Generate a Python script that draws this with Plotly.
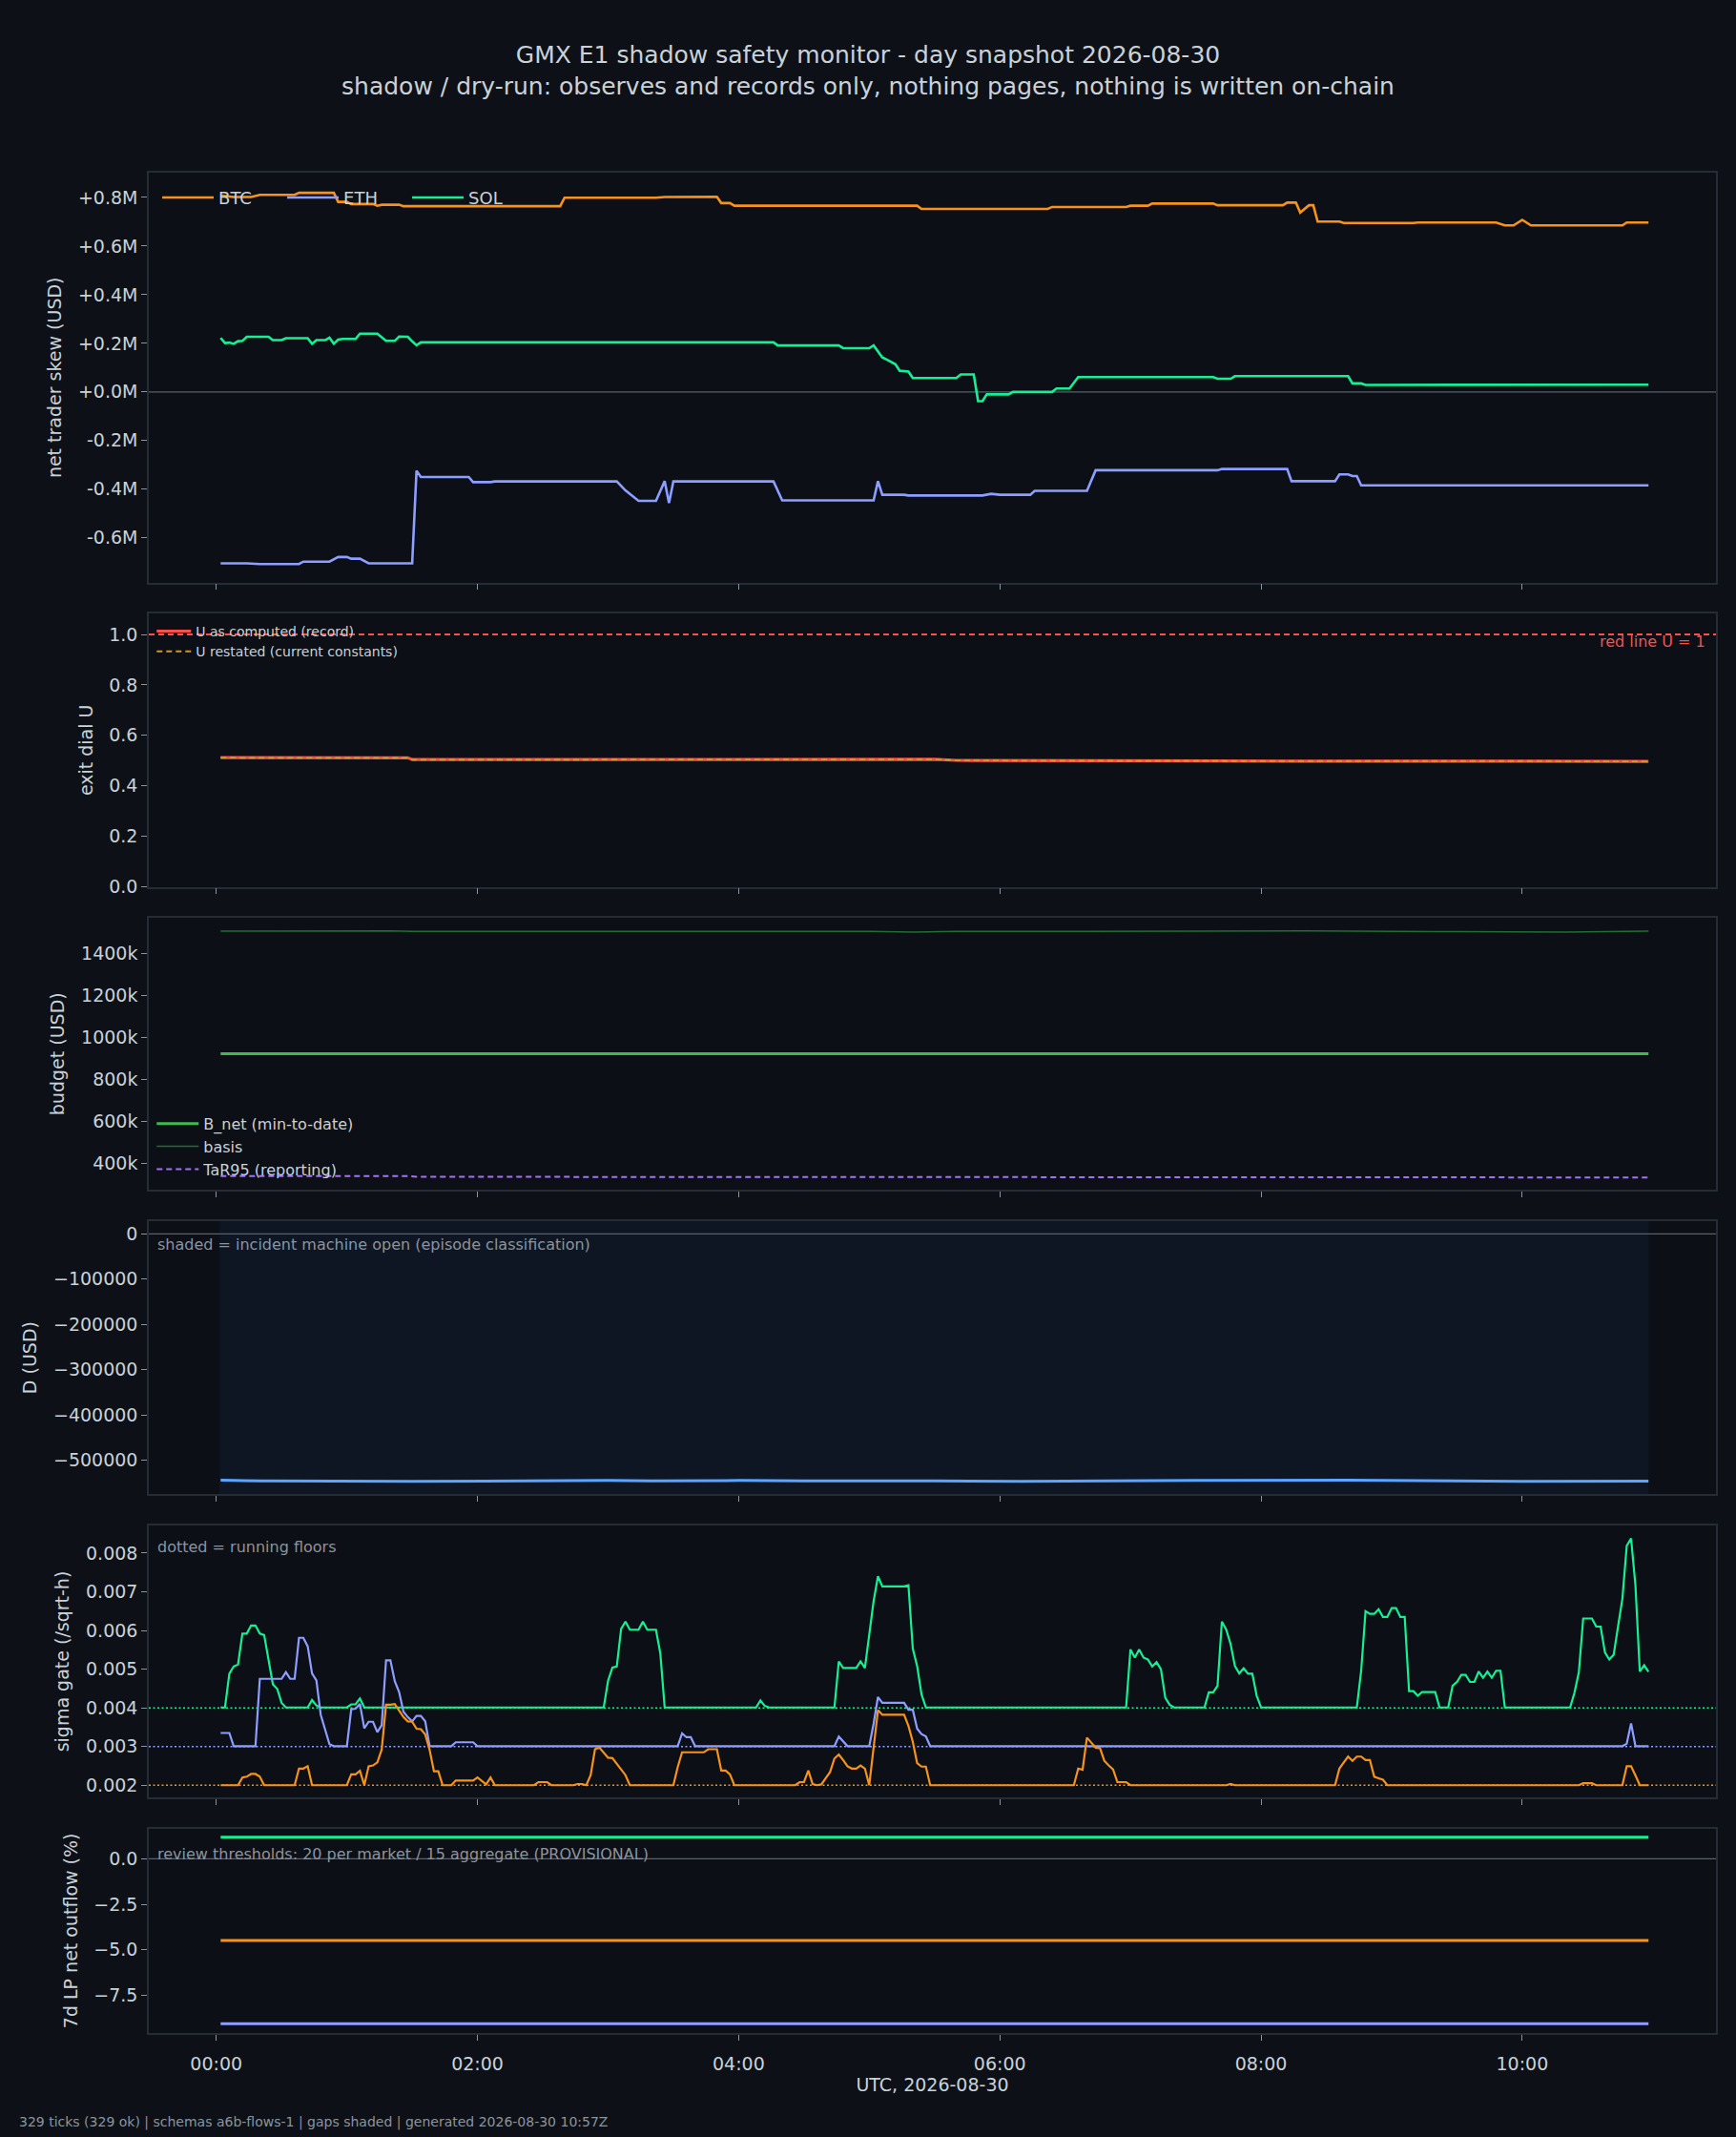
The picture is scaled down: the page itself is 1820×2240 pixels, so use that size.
import pandas as pd
import plotly.graph_objects as go
from plotly.subplots import make_subplots

DAY = "2026-08-30"

# --- colours ---
BG = "#0d1117"
PLOT_BG = "#0c0f16"
FG = "#c9d1d9"
MUTED = "#8b949e"
EDGE = "#262c36"
ZERO = "#5a6069"
C_BTC = "#f7931a"
C_ETH = "#8c9eff"
C_SOL = "#14f195"

# --- net trader skew, USD millions (minutes after 00:00, value) ---
BTC_SKEW_T = [2, 8, 16, 20, 36, 38, 54, 56, 60, 62, 72, 74, 76, 84, 86, 158, 160, 202, 206, 218,
              230, 232, 236, 238, 322, 324, 382, 384, 418, 420, 428, 430, 458, 460, 490, 492, 496,
              498, 502, 504, 506, 516, 518, 550, 552, 588, 592, 596, 600, 604, 646, 648, 658]
BTC_SKEW_M = [0.808, 0.802, 0.802, 0.811, 0.811, 0.819, 0.819, 0.782, 0.782, 0.773, 0.773, 0.766,
              0.770, 0.770, 0.764, 0.764, 0.799, 0.799, 0.802, 0.802, 0.803, 0.777, 0.777, 0.766,
              0.766, 0.753, 0.753, 0.761, 0.761, 0.766, 0.766, 0.775, 0.775, 0.768, 0.768, 0.779,
              0.779, 0.738, 0.768, 0.768, 0.701, 0.701, 0.695, 0.695, 0.697, 0.697, 0.685, 0.685,
              0.708, 0.685, 0.685, 0.697, 0.697]

ETH_SKEW_T = [2, 14, 20, 38, 40, 52, 56, 60, 62, 66, 70, 90, 92, 94, 116, 118, 126, 128, 184, 188,
              194, 202, 206, 208, 210, 256, 260, 302, 304, 306, 316, 318, 352, 356, 360, 374, 376,
              400, 404, 460, 462, 492, 494, 514, 516, 520, 522, 524, 526, 658]
ETH_SKEW_M = [-0.705, -0.705, -0.708, -0.708, -0.698, -0.698, -0.679, -0.679, -0.686, -0.686,
              -0.705, -0.705, -0.324, -0.350, -0.350, -0.371, -0.371, -0.368, -0.368, -0.405,
              -0.448, -0.448, -0.367, -0.457, -0.368, -0.368, -0.446, -0.446, -0.367, -0.423,
              -0.423, -0.426, -0.426, -0.419, -0.423, -0.423, -0.407, -0.407, -0.322, -0.322,
              -0.317, -0.317, -0.367, -0.367, -0.339, -0.339, -0.346, -0.346, -0.384, -0.384]

SOL_SKEW_T = [2, 4, 6, 8, 10, 12, 14, 24, 26, 30, 32, 42, 44, 46, 50, 52, 54, 56, 58, 64, 66, 74,
              78, 82, 84, 88, 90, 92, 94, 256, 258, 286, 288, 300, 302, 304, 306, 308, 312, 314,
              318, 320, 340, 342, 348, 350, 352, 354, 364, 366, 384, 386, 392, 396, 458, 460, 466,
              468, 520, 522, 526, 528, 658]
SOL_SKEW_M = [0.222, 0.201, 0.203, 0.198, 0.209, 0.210, 0.227, 0.227, 0.213, 0.213, 0.221, 0.221,
              0.198, 0.213, 0.213, 0.223, 0.198, 0.215, 0.218, 0.218, 0.240, 0.240, 0.210, 0.210,
              0.228, 0.227, 0.208, 0.192, 0.204, 0.204, 0.191, 0.191, 0.180, 0.180, 0.192, 0.165,
              0.142, 0.133, 0.114, 0.087, 0.084, 0.057, 0.057, 0.072, 0.072, -0.038, -0.038,
              -0.010, -0.010, 0.000, 0.000, 0.014, 0.014, 0.061, 0.061, 0.054, 0.054, 0.065,
              0.065, 0.035, 0.035, 0.029, 0.030]

SKEW_TICKS = [-0.6, -0.4, -0.2, 0.0, 0.2, 0.4, 0.6, 0.8]
SKEW_TICKTEXT = ["-0.6M", "-0.4M", "-0.2M", "+0.0M", "+0.2M", "+0.4M", "+0.6M", "+0.8M"]

# --- exit dial U ---
U_T = [2, 60, 88, 90, 200, 210, 240, 330, 340, 420, 480, 500, 600, 658]
U_RECORD = [0.512, 0.511, 0.511, 0.504, 0.504, 0.506, 0.504, 0.505, 0.501, 0.499, 0.500, 0.498,
            0.498, 0.497]
U_RESTATED = [0.512, 0.511, 0.511, 0.504, 0.504, 0.506, 0.504, 0.505, 0.501, 0.499, 0.500, 0.498,
              0.498, 0.497]
U_RED_LINE = 1.0

# --- budget, thousands USD ---
BASIS_T = [2, 20, 40, 80, 90, 200, 300, 320, 340, 400, 500, 560, 600, 620, 658]
BASIS_K = [1505, 1506, 1508, 1507, 1504, 1505, 1504, 1501, 1504, 1504, 1506, 1503, 1500, 1501, 1505]
BNET_T = [2, 658]
BNET_K = [921, 921]
TAR95_T = [2, 88, 92, 300, 400, 658]
TAR95_K = [339, 339, 335, 335, 333, 332]
BUDGET_TICKS = [400, 600, 800, 1000, 1200, 1400]
BUDGET_TICKTEXT = ["400k", "600k", "800k", "1000k", "1200k", "1400k"]

# --- D, USD ---
D_T = [2, 12, 20, 90, 130, 180, 200, 240, 270, 300, 330, 370, 400, 450, 520, 560, 600, 658]
D_USD = [-544500, -545000, -546000, -547000, -546000, -545000, -546000, -545000, -546000,
         -545500, -546000, -547000, -546000, -545000, -544500, -546000, -547000, -546500]
INCIDENT_OPEN = [1.5, 658]
D_TICKS = [-500000, -400000, -300000, -200000, -100000, 0]
D_TICKTEXT = ["\u2212500000", "\u2212400000", "\u2212300000", "\u2212200000", "\u2212100000", "0"]

# --- sigma gate (/sqrt-h) ---
SOL_SIG_T = [2, 4, 6, 8, 10, 12, 14, 16, 18, 20, 22, 24, 26, 28, 30, 32, 42, 44, 46, 48, 60, 62,
             64, 66, 68, 178, 180, 182, 184, 186, 188, 190, 194, 196, 198, 202, 204, 206, 248,
             250, 252, 254, 284, 286, 288, 294, 296, 298, 300, 302, 304, 306, 316, 318, 320, 322,
             324, 326, 418, 420, 422, 424, 426, 428, 430, 432, 434, 436, 438, 440, 454, 456, 458,
             460, 462, 464, 466, 468, 470, 472, 474, 476, 478, 480, 524, 526, 528, 530, 532, 534,
             536, 538, 540, 542, 544, 546, 548, 550, 552, 554, 560, 562, 566, 568, 570, 572, 574,
             576, 578, 580, 582, 584, 586, 588, 590, 592, 622, 624, 626, 628, 632, 634, 636, 638,
             640, 642, 644, 646, 648, 650, 652, 654, 656, 658]
SOL_SIG = [0.00401, 0.00401, 0.00488, 0.00507, 0.00512, 0.00592, 0.00592, 0.00613, 0.00613,
           0.00592, 0.00588, 0.00520, 0.00461, 0.00449, 0.00413, 0.00401, 0.00401, 0.00420,
           0.00406, 0.00401, 0.00401, 0.00409, 0.00409, 0.00424, 0.00401, 0.00401, 0.00470,
           0.00504, 0.00507, 0.00604, 0.00623, 0.00602, 0.00602, 0.00623, 0.00602, 0.00602,
           0.00541, 0.00401, 0.00401, 0.00419, 0.00405, 0.00401, 0.00401, 0.00520, 0.00503,
           0.00503, 0.00520, 0.00503, 0.00594, 0.00676, 0.00740, 0.00714, 0.00714, 0.00717,
           0.00553, 0.00508, 0.00435, 0.00401, 0.00401, 0.00551, 0.00530, 0.00551, 0.00530,
           0.00525, 0.00507, 0.00518, 0.00500, 0.00426, 0.00408, 0.00401, 0.00401, 0.00440,
           0.00440, 0.00457, 0.00623, 0.00602, 0.00565, 0.00508, 0.00489, 0.00502, 0.00488,
           0.00488, 0.00431, 0.00401, 0.00401, 0.00496, 0.00650, 0.00643, 0.00643, 0.00655,
           0.00635, 0.00635, 0.00658, 0.00658, 0.00635, 0.00635, 0.00443, 0.00443, 0.00431,
           0.00441, 0.00441, 0.00401, 0.00401, 0.00457, 0.00467, 0.00485, 0.00485, 0.00467,
           0.00467, 0.00494, 0.00478, 0.00494, 0.00478, 0.00496, 0.00496, 0.00401, 0.00401,
           0.00439, 0.00492, 0.00631, 0.00631, 0.00610, 0.00610, 0.00543, 0.00525, 0.00537,
           0.00610, 0.00682, 0.00819, 0.00838, 0.00717, 0.00494, 0.00510, 0.00493]

ETH_SIG_T = [2, 6, 8, 18, 20, 30, 32, 34, 36, 38, 40, 42, 44, 46, 48, 50, 52, 54, 60, 62, 64, 66,
             68, 70, 72, 74, 76, 78, 80, 82, 84, 86, 88, 90, 92, 94, 96, 98, 108, 110, 118, 120,
             212, 214, 216, 218, 220, 284, 286, 290, 300, 302, 304, 306, 316, 318, 320, 322, 324,
             326, 328, 646, 648, 650, 652, 658]
ETH_SIG = [0.00335, 0.00335, 0.00301, 0.00301, 0.00475, 0.00475, 0.00492, 0.00475, 0.00475,
           0.00581, 0.00581, 0.00559, 0.00489, 0.00471, 0.00382, 0.00345, 0.00306, 0.00301,
           0.00301, 0.00396, 0.00398, 0.00410, 0.00347, 0.00364, 0.00364, 0.00337, 0.00355,
           0.00523, 0.00523, 0.00469, 0.00441, 0.00390, 0.00376, 0.00365, 0.00379, 0.00379,
           0.00365, 0.00301, 0.00301, 0.00311, 0.00311, 0.00301, 0.00301, 0.00334, 0.00324,
           0.00324, 0.00301, 0.00301, 0.00326, 0.00301, 0.00301, 0.00359, 0.00428, 0.00413,
           0.00413, 0.00395, 0.00395, 0.00346, 0.00332, 0.00326, 0.00301, 0.00301, 0.00307,
           0.00360, 0.00301, 0.00301]

BTC_SIG_T = [2, 10, 12, 14, 16, 18, 20, 22, 36, 38, 40, 42, 44, 60, 62, 64, 66, 68, 70, 72, 74, 76,
             78, 80, 82, 84, 86, 88, 90, 92, 94, 96, 98, 100, 102, 104, 108, 110, 118, 120, 122,
             124, 126, 128, 146, 148, 152, 154, 164, 166, 168, 170, 172, 174, 176, 178, 180, 182,
             184, 186, 188, 190, 210, 212, 214, 224, 226, 230, 232, 234, 236, 238, 266, 268, 270,
             272, 274, 276, 278, 280, 282, 284, 286, 288, 290, 292, 294, 296, 298, 300, 302, 304,
             306, 316, 318, 320, 322, 324, 326, 328, 394, 396, 398, 400, 402, 404, 406, 408, 410,
             412, 414, 418, 420, 464, 466, 468, 514, 516, 518, 520, 522, 524, 526, 528, 530, 532,
             534, 536, 538, 626, 628, 632, 634, 646, 648, 650, 652, 654, 658]
BTC_SIG = [0.00200, 0.00200, 0.00220, 0.00222, 0.00229, 0.00229, 0.00222, 0.00200, 0.00200,
           0.00243, 0.00243, 0.00249, 0.00200, 0.00200, 0.00228, 0.00228, 0.00237, 0.00200,
           0.00249, 0.00251, 0.00259, 0.00292, 0.00408, 0.00408, 0.00410, 0.00394, 0.00376,
           0.00365, 0.00364, 0.00346, 0.00345, 0.00331, 0.00292, 0.00236, 0.00236, 0.00200,
           0.00200, 0.00212, 0.00212, 0.00220, 0.00211, 0.00202, 0.00220, 0.00200, 0.00200,
           0.00208, 0.00208, 0.00200, 0.00200, 0.00203, 0.00203, 0.00200, 0.00226, 0.00293,
           0.00297, 0.00283, 0.00271, 0.00270, 0.00255, 0.00238, 0.00226, 0.00200, 0.00200,
           0.00247, 0.00285, 0.00285, 0.00293, 0.00293, 0.00238, 0.00238, 0.00228, 0.00200,
           0.00200, 0.00208, 0.00208, 0.00238, 0.00203, 0.00200, 0.00202, 0.00218, 0.00234,
           0.00269, 0.00279, 0.00265, 0.00249, 0.00243, 0.00243, 0.00251, 0.00243, 0.00200,
           0.00300, 0.00394, 0.00382, 0.00382, 0.00353, 0.00312, 0.00257, 0.00248, 0.00248,
           0.00200, 0.00200, 0.00243, 0.00240, 0.00323, 0.00310, 0.00297, 0.00296, 0.00263,
           0.00251, 0.00241, 0.00208, 0.00208, 0.00200, 0.00200, 0.00203, 0.00200, 0.00200,
           0.00243, 0.00259, 0.00274, 0.00263, 0.00274, 0.00274, 0.00265, 0.00265, 0.00222,
           0.00218, 0.00214, 0.00200, 0.00200, 0.00205, 0.00205, 0.00200, 0.00200, 0.00249,
           0.00249, 0.00225, 0.00200, 0.00200]

SIG_FLOORS = {"SOL": 0.004, "ETH": 0.003, "BTC": 0.002}

# --- 7d LP net outflow, % ---
LP_T = [2, 658]
LP_SOL = [1.19, 1.19]
LP_BTC = [-4.49, -4.49]
LP_ETH = [-9.07, -9.07]
LP_TICKS = [-7.5, -5.0, -2.5, 0.0]
LP_TICKTEXT = ["\u22127.5", "\u22125.0", "\u22122.5", "0.0"]

HOUR_TICKS = [0, 2, 4, 6, 8, 10]


def ts(minutes):
    return pd.Timestamp(DAY) + pd.to_timedelta(minutes, unit="m")


fig = make_subplots(
    rows=6, cols=1, shared_xaxes=True,
    row_heights=[429, 286, 285, 286, 285, 214],
    vertical_spacing=32.5 / 1950,
)

# --- panel 1: skew ---
for name, t, v, c in [("BTC", BTC_SKEW_T, BTC_SKEW_M, C_BTC),
                      ("ETH", ETH_SKEW_T, ETH_SKEW_M, C_ETH),
                      ("SOL", SOL_SKEW_T, SOL_SKEW_M, C_SOL)]:
    fig.add_trace(go.Scatter(x=ts(t), y=v, mode="lines", name=name,
                             line=dict(color=c, width=2.6), legend="legend"), row=1, col=1)

# --- panel 2: exit dial ---
fig.add_trace(go.Scatter(x=ts(U_T), y=U_RECORD, mode="lines", name="U as computed (record)",
                         line=dict(color="#f85149", width=3.2), legend="legend2"), row=2, col=1)
fig.add_trace(go.Scatter(x=ts(U_T), y=U_RESTATED, mode="lines",
                         name="U restated (current constants)",
                         line=dict(color="#d29922", width=2, dash="6px,4px"),
                         legend="legend2"), row=2, col=1)

# --- panel 3: budget ---
fig.add_trace(go.Scatter(x=ts(BNET_T), y=BNET_K, mode="lines", name="B_net (min-to-date)",
                         line=dict(color="#3fb950", width=3), legend="legend3"), row=3, col=1)
fig.add_trace(go.Scatter(x=ts(BASIS_T), y=BASIS_K, mode="lines", name="basis",
                         line=dict(color="#1f6f30", width=1.5), legend="legend3"), row=3, col=1)
fig.add_trace(go.Scatter(x=ts(TAR95_T), y=TAR95_K, mode="lines", name="TaR95 (reporting)",
                         line=dict(color="#a371f7", width=2, dash="6px,4px"),
                         legend="legend3"), row=3, col=1)

# --- panel 4: D ---
fig.add_trace(go.Scatter(x=ts(D_T), y=D_USD, mode="lines", showlegend=False,
                         line=dict(color="#58a6ff", width=3)), row=4, col=1)

# --- panel 5: sigma gates ---
for t, v, c in [(SOL_SIG_T, SOL_SIG, C_SOL),
                (ETH_SIG_T, ETH_SIG, C_ETH),
                (BTC_SIG_T, BTC_SIG, C_BTC)]:
    fig.add_trace(go.Scatter(x=ts(t), y=v, mode="lines", showlegend=False,
                             line=dict(color=c, width=2.2)), row=5, col=1)

# running floors (dotted), added after the traces so the subplot is not empty
for k, c in [("SOL", C_SOL), ("ETH", C_ETH), ("BTC", C_BTC)]:
    fig.add_hline(y=SIG_FLOORS[k], line=dict(color=c, width=1.5, dash="2px,2.5px"),
                  layer="below", row=5, col=1)

# --- panel 6: LP outflow ---
for v, c in [(LP_SOL, C_SOL), (LP_BTC, C_BTC), (LP_ETH, C_ETH)]:
    fig.add_trace(go.Scatter(x=ts(LP_T), y=v, mode="lines", showlegend=False,
                             line=dict(color=c, width=3)), row=6, col=1)

# zero lines and reference lines
for r in (1, 4, 6):
    fig.add_hline(y=0, line=dict(color=ZERO, width=1.3), layer="below", row=r, col=1)
fig.add_hline(y=U_RED_LINE, line=dict(color="#f85149", width=2, dash="6px,4px"), row=2, col=1)

# incident shading
fig.add_shape(type="rect", xref="x4", yref="y4 domain",
              x0=ts(INCIDENT_OPEN[0]), x1=ts(INCIDENT_OPEN[1]), y0=0, y1=1,
              fillcolor="rgba(40,120,200,0.08)", line=dict(width=0), layer="below")

# --- annotations ---
note = dict(showarrow=False, xanchor="left", yanchor="middle",
            font=dict(size=16, color=MUTED))
fig.add_annotation(text="shaded = incident machine open (episode classification)",
                   xref="x4 domain", yref="y4 domain", x=0.004, y=0.914, **note)
fig.add_annotation(text="dotted = running floors",
                   xref="x5 domain", yref="y5 domain", x=0.004, y=0.919, **note)
fig.add_annotation(text="review thresholds: 20 per market / 15 aggregate (PROVISIONAL)",
                   xref="x6 domain", yref="y6 domain", x=0.004, y=0.877, **note)
fig.add_annotation(text="red line U = 1", xref="x2 domain", yref="y2 domain",
                   x=0.9945, y=(929 - 671) / 287, xanchor="right", yanchor="middle",
                   showarrow=False, font=dict(size=16, color="#f85149"))
fig.add_annotation(text="329 ticks (329 ok) | schemas a6b-flows-1 | gaps shaded | "
                        "generated 2026-08-30 10:57Z",
                   xref="paper", yref="paper", x=(18 - 156) / 1643, y=(2131 - 2224) / 1950,
                   xanchor="left", yanchor="middle", showarrow=False,
                   font=dict(size=14, color=MUTED))

# --- axes ---
axis_common = dict(showgrid=False, zeroline=False, showline=True, mirror=True,
                   linecolor=EDGE, linewidth=1.5, ticks="outside", ticklen=6, tickwidth=1.2,
                   tickcolor=MUTED, tickfont=dict(size=19, color=FG))
fig.update_xaxes(**axis_common, type="date", ticklabelstandoff=8,
                 range=[ts(-31), ts(11 * 60 + 29)],
                 tickvals=[ts(h * 60) for h in HOUR_TICKS], tickformat="%H:%M")
fig.update_xaxes(title=dict(text="UTC, " + DAY, font=dict(size=19, color=FG), standoff=4),
                 row=6, col=1)
fig.update_yaxes(**axis_common)

ytitle = lambda s: dict(text=s, font=dict(size=19, color=FG), standoff=12)
fig.update_yaxes(row=1, col=1, range=[-0.784, 0.902], tickvals=SKEW_TICKS,
                 ticktext=SKEW_TICKTEXT, title=ytitle("net trader skew (USD)"))
fig.update_yaxes(row=2, col=1, range=[0, 1.083], tickvals=[0, 0.2, 0.4, 0.6, 0.8, 1.0],
                 tickformat=".1f", title=ytitle("exit dial U"))
fig.update_yaxes(row=3, col=1, range=[272, 1569], tickvals=BUDGET_TICKS,
                 ticktext=BUDGET_TICKTEXT, title=ytitle("budget (USD)"))
fig.update_yaxes(row=4, col=1, range=[-575500, 28500], tickvals=D_TICKS,
                 ticktext=D_TICKTEXT, title=ytitle("D (USD)"))
fig.update_yaxes(row=5, col=1, range=[0.00168, 0.00872],
                 tickvals=[0.002, 0.003, 0.004, 0.005, 0.006, 0.007, 0.008],
                 tickformat=".3f", title=ytitle("sigma gate (/sqrt-h)"))
fig.update_yaxes(row=6, col=1, range=[-9.58, 1.66], tickvals=LP_TICKS,
                 ticktext=LP_TICKTEXT, title=ytitle("7d LP net outflow (%)"))

fig.update_layout(
    width=1820, height=2240,
    paper_bgcolor=BG, plot_bgcolor=PLOT_BG,
    font=dict(family="DejaVu Sans", color=FG, size=16),
    margin=dict(l=156, r=21, t=181, b=109),
    title=dict(
        text="GMX E1 shadow safety monitor - day snapshot 2026-08-30<br>"
             "shadow / dry-run: observes and records only, nothing pages, "
             "nothing is written on-chain",
        x=0.5, xref="container", xanchor="center",
        y=1 - 66 / 2240, yref="container", yanchor="top",
        font=dict(size=25, color=FG),
    ),
    legend=dict(orientation="h", x=0.0055, y=0.996, xanchor="left", yanchor="top",
                bgcolor="rgba(0,0,0,0)", font=dict(size=18, color=FG), itemwidth=54,
                entrywidth=62, entrywidthmode="pixels"),
    legend2=dict(orientation="v", x=0.002, y=0.7616, xanchor="left", yanchor="top",
                 bgcolor="rgba(0,0,0,0)", font=dict(size=14, color=FG), itemwidth=36,
                 tracegroupgap=0),
    legend3=dict(orientation="v", x=0.002, y=0.4975, xanchor="left", yanchor="top",
                 bgcolor="rgba(0,0,0,0)", font=dict(size=16, color=FG), itemwidth=44,
                 tracegroupgap=0),
)

fig.write_html("out.html", config={"displayModeBar": False},
               post_script="document.body.style.margin='0';"
                           "document.body.style.background='#0d1117';")
